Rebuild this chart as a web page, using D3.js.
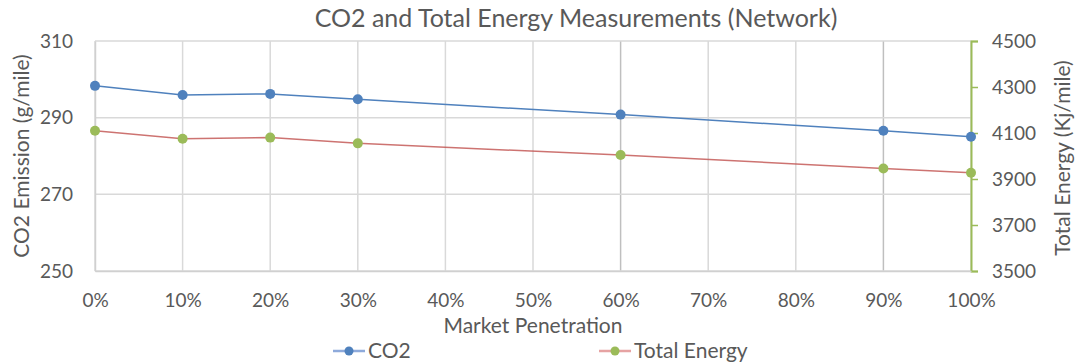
<!DOCTYPE html>
<html><head><meta charset="utf-8">
<script src="https://cdn.jsdelivr.net/npm/d3@7"></script>
<style>
body{margin:0;background:#fff;}
text{font-family:Lato, "Open Sans", sans-serif;fill:#595959;}
</style></head>
<body><svg id="c" width="1075" height="364"></svg>
<script>
const penetration = [0, 10, 20, 30, 60, 90, 100];
const co2 = [298.3, 295.9, 296.2, 294.8, 290.8, 286.6, 285.0];
const energy = [4110, 4075, 4080, 4055, 4004, 3946, 3927];
const xTicks = [0,10,20,30,40,50,60,70,80,90,100];
const leftTicks = [250, 270, 290, 310];
const rightTicks = [3500, 3700, 3900, 4100, 4300, 4500];

const svg = d3.select("#c");
const m = {l:95, r:971, t:41, b:271};
const x = d3.scaleLinear().domain([0,100]).range([m.l, m.r]);
const yL = d3.scaleLinear().domain([250,310]).range([m.b, m.t]);
const yR = d3.scaleLinear().domain([3500,4500]).range([m.b, m.t]);

// gridlines
const grid = svg.append("g");
grid.selectAll(".v").data(xTicks).join("line")
  .attr("x1", d=>x(d)).attr("x2", d=>x(d)).attr("y1", m.t).attr("y2", m.b)
  .attr("stroke", d => (d===60||d===90) ? "#bfbfbf" : "#d9d9d9").attr("stroke-width", 1.5);
grid.selectAll(".h").data(leftTicks).join("line")
  .attr("x1", m.l).attr("x2", m.r).attr("y1", d=>yL(d)).attr("y2", d=>yL(d))
  .attr("stroke", "#d9d9d9").attr("stroke-width", 1.5);

// left axis
const gl = svg.append("g").attr("transform", `translate(${m.l},0)`)
  .call(d3.axisLeft(yL).tickValues(leftTicks).tickSize(0).tickPadding(22));
gl.select(".domain").attr("stroke", "#d0d0d0").attr("stroke-width", 1.5);
gl.selectAll("text").style("font-size", "19px").attr("fill", "#595959");

// right axis
const gr = svg.append("g").attr("transform", `translate(${m.r},0)`)
  .call(d3.axisRight(yR).tickValues(rightTicks).tickFormat(d3.format("d")).tickSize(7).tickPadding(14));
gr.select(".domain").attr("stroke", "#9bbb59").attr("stroke-width", 2);
gr.selectAll(".tick line").attr("stroke", "#9bbb59").attr("stroke-width", 1.5);
gr.selectAll("text").style("font-size", "19px").attr("fill", "#595959");

// bottom axis
const gb = svg.append("g").attr("transform", `translate(0,${m.b})`)
  .call(d3.axisBottom(x).tickValues(xTicks).tickFormat(d=>d+"%").tickSize(0).tickPadding(23));
gb.select(".domain").attr("stroke", "#d0d0d0").attr("stroke-width", 1.5);
gb.selectAll("text").style("font-size", "19px").attr("fill", "#595959");

// lines
const lineL = d3.line().x((d,i)=>x(penetration[i])).y(d=>yL(d));
const lineR = d3.line().x((d,i)=>x(penetration[i])).y(d=>yR(d));
svg.append("path").datum(co2).attr("d", lineL).attr("fill","none").attr("stroke","#4f81bd").attr("stroke-width",1.5);
svg.append("path").datum(energy).attr("d", lineR).attr("fill","none").attr("stroke","#c0504d").attr("stroke-width",1.5).attr("stroke-opacity",0.8);
svg.selectAll(".pc").data(co2).join("circle").attr("cx",(d,i)=>x(penetration[i])).attr("cy",d=>yL(d)).attr("r",5).attr("fill","#4f81bd");
svg.selectAll(".pe").data(energy).join("circle").attr("cx",(d,i)=>x(penetration[i])).attr("cy",d=>yR(d)).attr("r",5).attr("fill","#9bbb59");

// titles
svg.append("text").attr("x", 576).attr("y", 27).attr("text-anchor","middle").style("font-size","25px")
  .text("CO2 and Total Energy Measurements (Network)");
svg.append("text").attr("x", (m.l+m.r)/2).attr("y", 333).attr("text-anchor","middle").style("font-size","21px")
  .text("Market Penetration");
svg.append("text").attr("transform","translate(29,156) rotate(-90)").attr("text-anchor","middle").style("font-size","21px")
  .text("CO2 Emission (g/mile)");
svg.append("text").attr("transform","translate(1070,158) rotate(-90)").attr("text-anchor","middle").style("font-size","21px")
  .text("Total Energy (Kj/mile)");

// legend
const legend = [{name:"CO2", line:"#8eaadb", dot:"#4f81bd", x:333},
                {name:"Total Energy", line:"#e6a3a3", dot:"#9bbb59", x:599}];
const lg = svg.selectAll(".lg").data(legend).join("g").attr("transform", d=>`translate(${d.x},351)`);
lg.append("line").attr("x1",0).attr("x2",32).attr("stroke",d=>d.line).attr("stroke-width",2.5);
lg.append("circle").attr("cx",16).attr("r",4.5).attr("fill",d=>d.dot);
lg.append("text").attr("x",35).attr("y",7).style("font-size","21px").text(d=>d.name);
</script></body></html>
